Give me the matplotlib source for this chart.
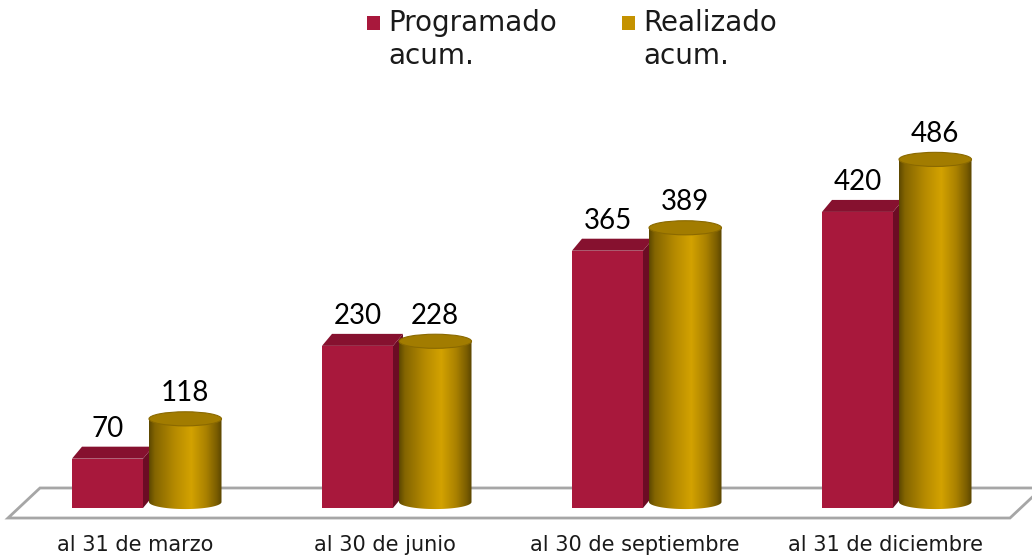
import matplotlib
matplotlib.use("Agg")
import matplotlib.pyplot as plt
import numpy as np
from matplotlib.patches import Polygon, Ellipse, Rectangle, PathPatch
from matplotlib.path import Path
from matplotlib.colors import LinearSegmentedColormap

categories = ["al 31 de marzo", "al 30 de junio", "al 30 de septiembre", "al 31 de diciembre"]
programado = [70, 230, 365, 420]
realizado = [118, 228, 389, 486]
series_names = ["Programado\nacum.", "Realizado\nacum."]

red_front = "#A8183C"
red_top = "#86112F"
red_side = "#6C0C24"
gold = "#C49200"

gold_cmap = LinearSegmentedColormap.from_list("gold", [
    (0.0, "#5c4700"), (0.08, "#846500"), (0.35, "#b58a00"),
    (0.58, "#d3a200"), (0.78, "#ab8200"), (0.93, "#7a5d00"), (1.0, "#5a4500")])

fig = plt.figure(figsize=(10.32, 5.6), dpi=100)
ax = fig.add_axes([0, 0, 1, 1])
ax.set_xlim(-0.54, 3.588)
ax.set_ylim(-73.76, 720.6)
ax.axis("off")

# 3d look: depth offsets in data units
dx, dy = 0.04, 17.0
ell_h = 20.0

# floor
floor = Polygon([(-0.508, -14.2), (3.5, -14.2), (3.628, 28.4), (-0.38, 28.4)],
                closed=True, facecolor="white", edgecolor="#a6a6a6", lw=2, zorder=1)
ax.add_patch(floor)

grad = np.linspace(0, 1, 256).reshape(1, -1)

for i, (p, r) in enumerate(zip(programado, realizado)):
    # red box
    x0, x1 = i - 0.252, i + 0.032
    ax.add_patch(Polygon([(x1, 0), (x1 + dx, dy), (x1 + dx, p + dy), (x1, p)],
                         closed=True, facecolor=red_side, edgecolor="none", zorder=2))
    ax.add_patch(Polygon([(x0, p), (x0 + dx, p + dy), (x1 + dx, p + dy), (x1, p)],
                         closed=True, facecolor=red_top, edgecolor="none", zorder=2))
    ax.add_patch(Rectangle((x0, 0), x1 - x0, p, facecolor=red_front, edgecolor="none", zorder=2))
    ax.text((x0 + x1) / 2, p + dy + 7, str(p), ha="center", va="bottom",
            fontsize=20, family="Lato", color="black", zorder=5)

    # gold cylinder
    c0, c1 = i + 0.056, i + 0.346
    cx = (c0 + c1) / 2
    base = dy / 2
    top = r + dy / 2
    t = np.linspace(np.pi, 2 * np.pi, 60)
    arc_x = cx + (c1 - c0) / 2 * np.cos(t)
    arc_y = base + ell_h / 2 * np.sin(t)
    verts = [(c0, top)] + list(zip(arc_x, arc_y)) + [(c1, top), (c0, top)]
    body = Path(verts, closed=True)
    im = ax.imshow(grad, cmap=gold_cmap, aspect="auto",
                   extent=(c0, c1, base - ell_h, top), zorder=3, interpolation="bilinear")
    im.set_clip_path(PathPatch(body, transform=ax.transData))
    ax.add_patch(Ellipse((cx, top), c1 - c0, ell_h, facecolor="#a27c00",
                         edgecolor="#8a6900", lw=0.8, zorder=4))
    ax.text(cx, top + ell_h / 2 + 8, str(r), ha="center", va="bottom",
            fontsize=20, family="Lato", color="black", zorder=5)

    ax.text(i, -52.5, categories[i], ha="center", va="center",
            fontsize=15, color="#1a1a1a", zorder=5)

# legend
leg_colors = [red_front, gold]
leg_x = [367, 622]
for name, col, lx in zip(series_names, leg_colors, leg_x):
    fig.patches.append(Rectangle((lx / 1032, 1 - 30 / 560), 13 / 1032, 14 / 560,
                                 transform=fig.transFigure, facecolor=col, edgecolor="none"))
    fig.text((lx + 21) / 1032, 1 - 9 / 560, name, ha="left", va="top",
             fontsize=20, color="#1a1a1a", linespacing=1.25)

fig.savefig("out.png", dpi=100)
